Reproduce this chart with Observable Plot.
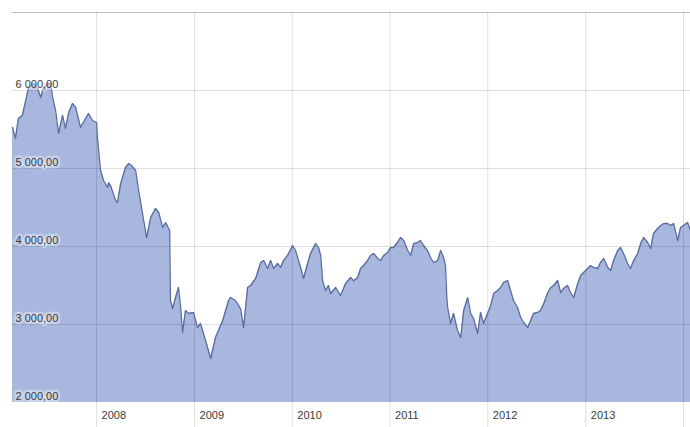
<!DOCTYPE html>
<html>
<head>
<meta charset="utf-8">
<script src="https://cdn.jsdelivr.net/npm/d3@7"></script>
<script src="https://cdn.jsdelivr.net/npm/@observablehq/plot@0.6"></script>
<style>
  html, body { margin: 0; padding: 0; background: #fff; }
  #chart svg { display: block; }
</style>
</head>
<body>
<div id="chart"></div>
<script>
// Index level (date, value)
const dates = [
  "2007-02-21","2007-03-04","2007-03-15","2007-03-30","2007-04-22","2007-05-11","2007-05-26","2007-06-06",
  "2007-06-17","2007-07-02","2007-07-13","2007-07-21","2007-08-01","2007-08-12","2007-08-27","2007-09-07",
  "2007-09-18","2007-10-03","2007-10-15","2007-11-02","2007-11-21","2007-12-02","2007-12-17","2008-01-01",
  "2008-01-05","2008-01-16","2008-01-27","2008-02-11","2008-02-15","2008-02-22","2008-03-12","2008-03-19",
  "2008-03-31","2008-04-07","2008-04-18","2008-04-30","2008-05-11","2008-05-26","2008-06-06","2008-06-25",
  "2008-07-06","2008-07-21","2008-08-08","2008-08-20","2008-09-04","2008-09-15","2008-09-30","2008-10-03",
  "2008-10-11","2008-10-22","2008-11-02","2008-11-10","2008-11-17","2008-11-28","2008-12-10","2008-12-28",
  "2009-01-12","2009-01-23","2009-02-11","2009-03-02","2009-03-20","2009-04-16","2009-05-08","2009-05-15",
  "2009-06-03","2009-06-22","2009-07-03","2009-07-18","2009-07-29","2009-08-17","2009-09-05","2009-09-16",
  "2009-10-01","2009-10-12","2009-10-23","2009-11-07","2009-11-18","2009-11-29","2009-12-14","2010-01-02",
  "2010-01-13","2010-02-01","2010-02-12","2010-02-27","2010-03-10","2010-03-29","2010-04-09","2010-04-17",
  "2010-04-24","2010-05-05","2010-05-16","2010-05-24","2010-06-12","2010-06-30","2010-07-19","2010-08-07",
  "2010-08-18","2010-09-02","2010-09-13","2010-09-24","2010-10-09","2010-10-20","2010-11-01","2010-11-16",
  "2010-11-27","2010-12-08","2010-12-23","2011-01-03","2011-01-14","2011-01-29","2011-02-09","2011-02-21",
  "2011-03-08","2011-03-19","2011-03-30","2011-04-14","2011-04-25","2011-05-06","2011-05-21","2011-06-01",
  "2011-06-13","2011-06-28","2011-07-09","2011-07-20","2011-07-27","2011-08-01","2011-08-04","2011-08-15",
  "2011-08-26","2011-09-10","2011-09-22","2011-10-03","2011-10-18","2011-10-29","2011-11-09","2011-11-24",
  "2011-12-05","2011-12-16","2011-12-31","2012-01-12","2012-01-23","2012-02-07","2012-02-18","2012-02-29",
  "2012-03-15","2012-03-26","2012-04-06","2012-04-21","2012-05-03","2012-05-14","2012-05-29","2012-06-09",
  "2012-06-20","2012-07-05","2012-07-16","2012-07-28","2012-08-11","2012-08-23","2012-09-03","2012-09-18",
  "2012-09-29","2012-10-10","2012-10-25","2012-11-05","2012-11-17","2012-12-02","2012-12-13","2012-12-24",
  "2013-01-08","2013-01-19","2013-01-30","2013-02-14","2013-02-25","2013-03-09","2013-03-24","2013-04-04",
  "2013-04-15","2013-04-30","2013-05-11","2013-05-22","2013-06-06","2013-06-17","2013-06-29","2013-07-14",
  "2013-07-25","2013-08-05","2013-08-20","2013-08-31","2013-09-11","2013-09-26","2013-10-08","2013-10-19",
  "2013-11-03","2013-11-14","2013-11-25","2013-12-10","2013-12-21","2014-01-01","2014-01-16","2014-01-27"
];
const values = [
  5526,5385,5641,5680,6038,6090,6026,5910,
  6038,6090,6090,5910,5744,5450,5680,5513,
  5705,5833,5782,5526,5641,5705,5615,5590,
  5359,4974,4846,4756,4820,4782,4590,4564,
  4808,4885,5013,5064,5038,4974,4718,4333,
  4115,4372,4487,4436,4244,4308,4205,3308,
  3205,3346,3474,3218,2897,3179,3141,3154,
  2961,3013,2795,2564,2833,3051,3308,3346,
  3308,3200,2961,3474,3500,3590,3795,3820,
  3718,3820,3718,3782,3731,3820,3885,4013,
  3949,3731,3590,3782,3910,4038,3987,3885,
  3564,3436,3500,3397,3474,3372,3526,3603,
  3560,3603,3718,3756,3820,3885,3910,3846,
  3820,3885,3923,3987,3987,4051,4115,4077,
  3949,3885,4038,4051,4077,4013,3949,3859,
  3795,3820,3949,3859,3756,3346,3218,3013,
  3141,2923,2833,3179,3346,3141,3077,2885,
  3154,3013,3141,3244,3397,3436,3474,3538,
  3564,3436,3308,3218,3090,3026,2962,3051,
  3141,3154,3179,3269,3397,3474,3500,3564,
  3410,3462,3500,3410,3346,3526,3628,3667,
  3718,3756,3731,3718,3795,3846,3731,3692,
  3820,3949,3987,3910,3782,3718,3820,3910,
  4038,4115,4051,3974,4167,4231,4269,4295,
  4295,4269,4295,4077,4244,4269,4308,4205
];
const yTicks = [2000, 3000, 4000, 5000, 6000];
const yTickLabels = ["2 000,00", "3 000,00", "4 000,00", "5 000,00", "6 000,00"];
const yGrid = [3000, 4000, 5000, 6000, 7000];
const yearTicks = ["2008-01-01","2009-01-01","2010-01-01","2011-01-01","2012-01-01","2013-01-01","2014-01-01"];
const yearLabels = ["2008","2009","2010","2011","2012","2013"];

const data = dates.map((d, i) => ({date: new Date(d), value: values[i]}));
const yearDates = yearTicks.map(d => new Date(d));
const yearLabelRows = yearLabels.map((t, i) => ({date: yearDates[i], label: t}));
const yLabelRows = yTicks.map((v, i) => ({value: v, label: yTickLabels[i]}));

const chart = Plot.plot({
  width: 690,
  height: 427,
  marginLeft: 12,
  marginRight: 0,
  marginTop: 12,
  marginBottom: 25,
  style: {fontFamily: "'Liberation Sans', Arial, sans-serif", fontSize: "11px", background: "#fff"},
  x: {type: "utc", domain: [new Date("2007-02-21"), new Date("2014-01-27")], axis: null},
  y: {domain: [2000, 7000], axis: null},
  marks: [
    Plot.areaY(data, {x: "date", y1: () => 2000, y2: "value", fill: "#a8b7de", curve: "linear"}),
    Plot.ruleY(yGrid, {stroke: "#000", strokeOpacity: 0.12}),
    Plot.ruleY([7000], {stroke: "#bdbdbd", strokeWidth: 1}),
    Plot.ruleX(yearDates, {stroke: "#000", strokeOpacity: 0.13, insetBottom: -25}),
    Plot.lineY(data, {x: "date", y: "value", stroke: "#5a6b9e", strokeWidth: 1.3}),
    Plot.text(yLabelRows, {
      y: "value", text: "label", frameAnchor: "left", textAnchor: "start",
      lineAnchor: "bottom", dx: 3, dy: -3, fill: "#3a3a3a",
      stroke: "#fff", strokeOpacity: 0.35, strokeWidth: 5
    }),
    Plot.text(yearLabelRows, {
      x: "date", text: "label", frameAnchor: "bottom", textAnchor: "start",
      lineAnchor: "middle", dx: 5, dy: 13, fill: "#3a3a3a"
    })
  ]
});
document.getElementById("chart").appendChild(chart);
</script>
</body>
</html>
